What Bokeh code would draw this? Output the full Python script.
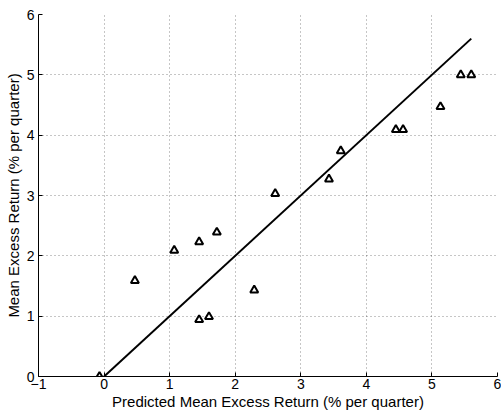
from bokeh.plotting import figure
from bokeh.models import Range1d, FixedTicker
from bokeh.embed import file_html
from bokeh.resources import INLINE

predicted = [-0.07, 0.47, 1.07, 1.45, 1.72, 1.45, 1.60, 2.29, 2.61, 3.43, 3.61, 4.45, 4.56, 5.13, 5.44, 5.60]
actual = [0.0, 1.59, 2.09, 2.23, 2.39, 0.94, 0.99, 1.43, 3.03, 3.27, 3.74, 4.09, 4.09, 4.47, 5.00, 5.00]
fit_x = [0.0, 5.6]
fit_y = [0.0, 5.6]
x_ticks = [-1, 0, 1, 2, 3, 4, 5, 6]
y_ticks = [0, 1, 2, 3, 4, 5, 6]

p = figure(width=501, height=416, output_backend="svg", toolbar_location=None,
           x_range=Range1d(-1, 6), y_range=Range1d(0, 6),
           min_border_left=38, min_border_right=4, min_border_top=14, min_border_bottom=40)
p.outline_line_color = None
p.background_fill_color = "white"

for ax in (p.xaxis[0], p.yaxis[0]):
    ax.major_tick_in = 4
    ax.major_tick_out = 0
    ax.minor_tick_line_color = None
    ax.axis_line_color = "black"
    ax.major_tick_line_color = "black"
    ax.major_label_text_font = "Liberation Sans"
    ax.major_label_text_font_size = "14px"
    ax.major_label_text_color = "black"
    ax.axis_label_text_font = "Liberation Sans"
    ax.axis_label_text_font_size = "15px"
    ax.axis_label_text_font_style = "normal"
    ax.axis_label_text_color = "black"

p.xaxis.ticker = FixedTicker(ticks=x_ticks)
p.yaxis.ticker = FixedTicker(ticks=y_ticks)
p.xaxis.major_label_overrides = {-1: "\u22121"}
p.xaxis.axis_label = "Predicted Mean Excess Return (% per quarter)"
p.yaxis.axis_label = "Mean Excess Return (% per quarter)"
p.xaxis.major_label_standoff = 2
p.xaxis.axis_label_standoff = 1
p.yaxis.major_label_standoff = 4
p.yaxis.axis_label_standoff = 2

for g in (p.xgrid[0], p.ygrid[0]):
    g.grid_line_color = "#000000"
    g.grid_line_alpha = 0.45
    g.grid_line_dash = "1 3"
    g.grid_line_width = 1
p.xgrid.ticker = FixedTicker(ticks=x_ticks)
p.ygrid.ticker = FixedTicker(ticks=y_ticks)

p.line(fit_x, fit_y, line_color="black", line_width=2)
p.scatter(predicted, actual, marker="triangle", size=8, line_color="black",
          fill_color="white", line_width=2)

open("out.html", "w").write(file_html(p, INLINE))
